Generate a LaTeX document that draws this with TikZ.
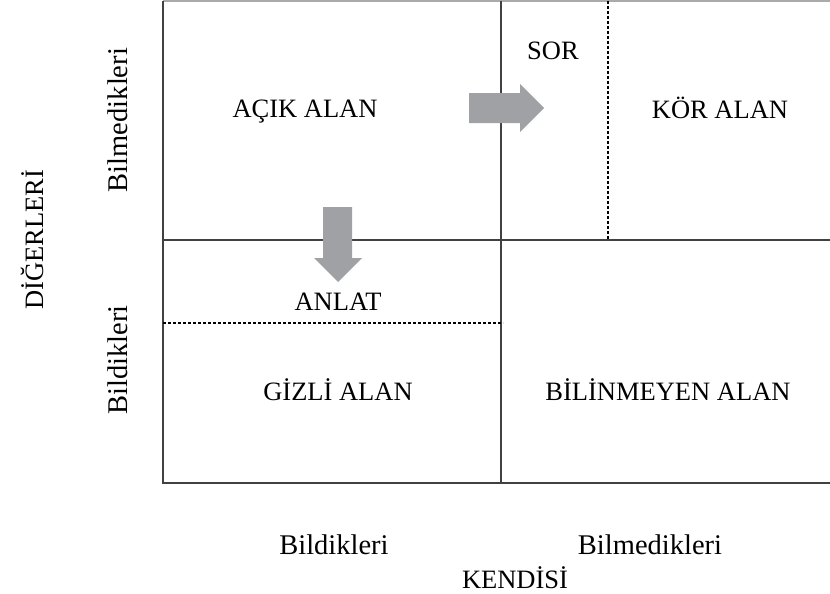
\documentclass[tikz,border=0pt]{standalone}
\usepackage{fontspec}
\setmainfont{Liberation Serif}
\usetikzlibrary{positioning}
\definecolor{arrowgray}{RGB}{160,161,165}
\definecolor{linegray}{RGB}{65,65,65}
\definecolor{topgray}{RGB}{170,170,170}
\tikzset{
  gridline/.style={line width=1.6pt, linegray},
  splitline/.style={line width=1.2pt, black, dash pattern=on 3pt off 2pt},
  areatext/.style={font=\fontsize{26.5}{30}\selectfont},
  sidetext/.style={font=\fontsize{28.5}{32}\selectfont},
  titletext/.style={font=\fontsize{26.5}{30}\selectfont},
  bigarrow/.style={fill=arrowgray}
}
\begin{document}
\begin{tikzpicture}[x=1pt, y=-1pt]
  \useasboundingbox (0,0) rectangle (830,594);
  \path
  (163,1) coordinate (tl)
  (830,1) coordinate (tr)
  (163,483) coordinate (bl)
  (830,483) coordinate (br)
  (501,1) coordinate (mt)
  (501,483) coordinate (mb)
  (163,240) coordinate (ml)
  (830,240) coordinate (mr)
  (608,1) coordinate (dt)
  (608,240) coordinate (db)
  (163,323) coordinate (hl)
  (503,323) coordinate (hr)
  ;

  % cerceve ve bolmeler
  \draw[line width=1.6pt, topgray] (tl) -- (tr);
  \draw[gridline] (tl) -- (bl) -- (br);
  \draw[gridline] (mt) -- (mb);
  \draw[gridline] (ml) -- (mr);
  \draw[splitline] (dt) -- (db);
  \draw[splitline] (hl) -- (hr);

  % oklar
  \fill[bigarrow] (469,93) -- (520,93) -- (520,84) -- (544,108) -- (520,132)
    -- (520,123) -- (469,123) -- cycle;
  \fill[bigarrow] (323,207) -- (352,207) -- (352,258) -- (362,258) -- (338,282)
    -- (314,258) -- (323,258) -- cycle;

  \draw
  (305,112) node[areatext] (acik) {AÇIK ALAN}
  (720,108) node[areatext] (kor) {KÖR ALAN}
  (553,51) node[areatext] (sor) {SOR}
  (338,302) node[areatext] (anlat) {ANLAT}
  (338,390) node[areatext] (gizli) {GİZLİ ALAN}
  (668,390) node[areatext] (bilinmeyen) {BİLİNMEYEN ALAN}
  ;

  \draw
  (334,545) node[sidetext] (kbildik) {Bildikleri}
  (650,545) node[sidetext] (kbilmed) {Bilmedikleri}
  (515,578) node[titletext] (kendisi) {KENDİSİ}
  (118,120) node[sidetext, rotate=90] (dbilmed) {Bilmedikleri}
  (118,360) node[sidetext, rotate=90] (dbildik) {Bildikleri}
  (32,240) node[titletext, rotate=90] (digerleri) {DİĞERLERİ}
  ;
\end{tikzpicture}
\end{document}
